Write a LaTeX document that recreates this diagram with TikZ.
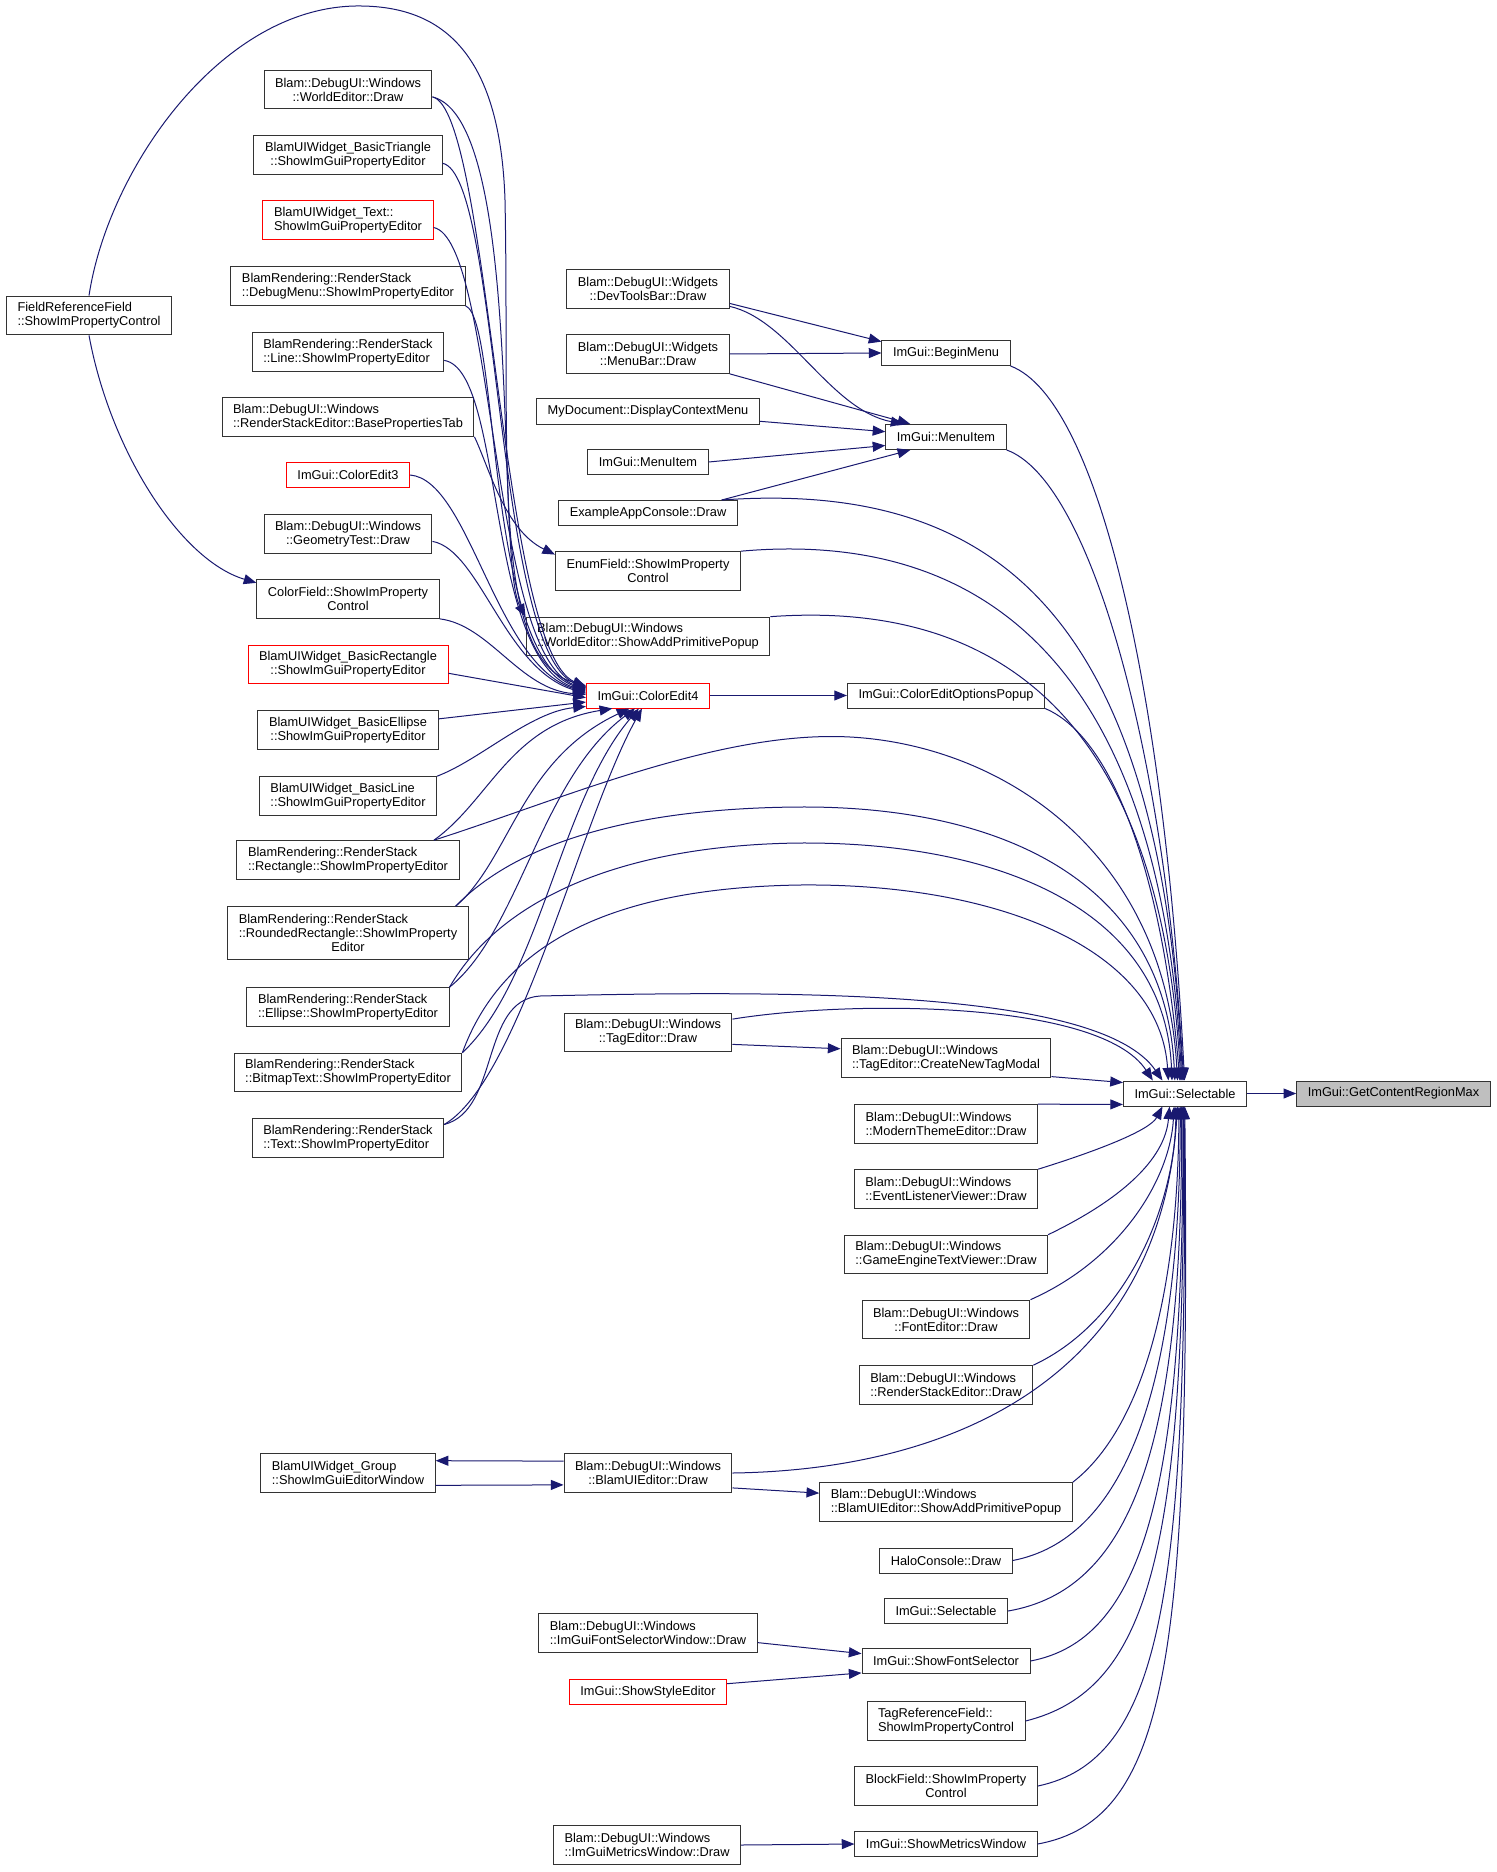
\documentclass[tikz,border=0pt]{standalone}
\usepackage{fontspec}
\setmainfont{Liberation Sans}
\usetikzlibrary{arrows.meta}
\definecolor{edgeblue}{HTML}{191970}
\definecolor{nodegray}{HTML}{BFBFBF}

\tikzset{
  fn/.style={draw=black!80, fill=white, line width=0.75pt, inner xsep=8.3pt, inner ysep=0pt,
    minimum height=18.75pt, align=center, font=\fontsize{9.6}{10.5}\selectfont},
  fn2/.style={fn, minimum height=29pt},
  fn3/.style={fn, minimum height=39.5pt},
  redbox/.style={draw=red},
  callarrow/.style={draw=edgeblue, line width=0.75pt, -{Triangle[length=9.5pt,width=7.5pt]}}
}

\begin{document}
\begin{tikzpicture}[x=0.75pt,y=-0.75pt]
\path[use as bounding box, fill=white] (0,0) rectangle (1496,1872);

% left column
\node (wed)    [fn2] at (348,89.5) {Blam::DebugUI::Windows\\::WorldEditor::Draw};
\node (bwtri)  [fn2] at (348,155) {BlamUIWidget\_BasicTriangle\\::ShowImGuiPropertyEditor};
\node (bwtext) [fn2,redbox,align=left] at (348,220) {BlamUIWidget\_Text::\\ShowImGuiPropertyEditor};
\node (rsdm)   [fn2,align=left] at (348,286) {BlamRendering::RenderStack\\::DebugMenu::ShowImPropertyEditor};
\node (rsl)    [fn2,align=left] at (348,352) {BlamRendering::RenderStack\\::Line::ShowImPropertyEditor};
\node (rsbp)   [fn2,align=left] at (348,417) {Blam::DebugUI::Windows\\::RenderStackEditor::BasePropertiesTab};
\node (ce3)    [fn,redbox] at (348,475) {ImGui::ColorEdit3};
\node (geo)    [fn2] at (348,534) {Blam::DebugUI::Windows\\::GeometryTest::Draw};
\node (cf)     [fn2] at (348,599) {ColorField::ShowImProperty\\Control};
\node (bwrect) [fn2,redbox] at (348,664.5) {BlamUIWidget\_BasicRectangle\\::ShowImGuiPropertyEditor};
\node (bwell)  [fn2] at (348,730) {BlamUIWidget\_BasicEllipse\\::ShowImGuiPropertyEditor};
\node (bwline) [fn2,align=left] at (348,796) {BlamUIWidget\_BasicLine\\::ShowImGuiPropertyEditor};
\node (rsrect) [fn2,align=left] at (348,860) {BlamRendering::RenderStack\\::Rectangle::ShowImPropertyEditor};
\node (rsrr)   [fn3,align=left] at (348,933) {BlamRendering::RenderStack\\::RoundedRectangle::ShowImProperty\\\hspace*{\fill}Editor\hspace*{\fill}};
\node (rsell)  [fn2,align=left] at (348,1007) {BlamRendering::RenderStack\\::Ellipse::ShowImPropertyEditor};
\node (rsbmp)  [fn2,align=left] at (348,1072.5) {BlamRendering::RenderStack\\::BitmapText::ShowImPropertyEditor};
\node (rstxt)  [fn2,align=left] at (348,1138) {BlamRendering::RenderStack\\::Text::ShowImPropertyEditor};
\node (frf)    [fn2,align=left] at (89,315.5) {FieldReferenceField\\::ShowImPropertyControl};
\node (grp)    [fn2,align=left] at (348,1473) {BlamUIWidget\_Group\\::ShowImGuiEditorWindow};

% middle column
\node (dtb)  [fn2] at (648,289) {Blam::DebugUI::Widgets\\::DevToolsBar::Draw};
\node (mb)   [fn2] at (648,354) {Blam::DebugUI::Widgets\\::MenuBar::Draw};
\node (mdc)  [fn] at (648,411.5) {MyDocument::DisplayContextMenu};
\node (mil)  [fn] at (648,462) {ImGui::MenuItem};
\node (eac)  [fn] at (648,513) {ExampleAppConsole::Draw};
\node (ef)   [fn2] at (648,571) {EnumField::ShowImProperty\\Control};
\node (wap)  [fn2,align=left] at (648,636.5) {Blam::DebugUI::Windows\\::WorldEditor::ShowAddPrimitivePopup};
\node (ce4)  [fn,redbox] at (648,695.5) {ImGui::ColorEdit4};
\node (ted)  [fn2] at (648,1032.5) {Blam::DebugUI::Windows\\::TagEditor::Draw};
\node (bued) [fn2] at (648,1473) {Blam::DebugUI::Windows\\::BlamUIEditor::Draw};
\node (fsw)  [fn2,align=left] at (648,1633) {Blam::DebugUI::Windows\\::ImGuiFontSelectorWindow::Draw};
\node (sse)  [fn,redbox] at (648,1692) {ImGui::ShowStyleEditor};
\node (imw)  [fn2,align=left] at (647,1845) {Blam::DebugUI::Windows\\::ImGuiMetricsWindow::Draw};

% right column
\node (bm)   [fn] at (946,353) {ImGui::BeginMenu};
\node (mi)   [fn] at (946,437) {ImGui::MenuItem};
\node (ceo)  [fn] at (946,695.5) {ImGui::ColorEditOptionsPopup};
\node (ctm)  [fn2,align=left] at (946,1058) {Blam::DebugUI::Windows\\::TagEditor::CreateNewTagModal};
\node (mte)  [fn2,align=left] at (946,1124) {Blam::DebugUI::Windows\\::ModernThemeEditor::Draw};
\node (elv)  [fn2,align=left] at (946,1189) {Blam::DebugUI::Windows\\::EventListenerViewer::Draw};
\node (getv) [fn2,align=left] at (946,1254.5) {Blam::DebugUI::Windows\\::GameEngineTextViewer::Draw};
\node (fed)  [fn2] at (946,1319.5) {Blam::DebugUI::Windows\\::FontEditor::Draw};
\node (rsd)  [fn2,align=left] at (946,1385) {Blam::DebugUI::Windows\\::RenderStackEditor::Draw};
\node (buap) [fn2,align=left] at (946,1502) {Blam::DebugUI::Windows\\::BlamUIEditor::ShowAddPrimitivePopup};
\node (hcd)  [fn] at (946,1560.5) {HaloConsole::Draw};
\node (sel2) [fn] at (946,1611) {ImGui::Selectable};
\node (sfs)  [fn] at (946,1661) {ImGui::ShowFontSelector};
\node (trf)  [fn2,align=left] at (946,1721) {TagReferenceField::\\ShowImPropertyControl};
\node (bf)   [fn2] at (946,1786) {BlockField::ShowImProperty\\Control};
\node (smw)  [fn] at (946,1844) {ImGui::ShowMetricsWindow};

\node (sel)  [fn] at (1185,1093.5) {ImGui::Selectable};
\node (gcr)  [fn,fill=nodegray] at (1393.5,1093.5) {ImGui::GetContentRegionMax};

% callers of ColorEdit4
\draw[callarrow] (frf.north) .. controls (108,170) and (220,8) .. (356,6)
  .. controls (440,5) and (500,50) .. (505,200) .. controls (510,450) and (490,660) .. (ce4.171);
\draw[callarrow] (frf.south) .. controls (110,450) and (180,560) .. (cf.170);
\draw[callarrow] (wed.-5) .. controls (490,110) and (500,650) .. (ce4.172);
\draw[callarrow] (wed.-5) .. controls (525,120) and (495,560) .. (wap.north west);
\draw[callarrow] (bwtri.-5) .. controls (500,175) and (495,650) .. (ce4.173);
\draw[callarrow] (bwtext.-5) .. controls (495,240) and (490,655) .. (ce4.174);
\draw[callarrow] (rsdm.south east) .. controls (500,320) and (485,655) .. (ce4.175);
\draw[callarrow] (rsl.-5) .. controls (505,370) and (485,660) .. (ce4.176);
\draw[callarrow] (rsbp.south east) .. controls (490,470) and (505,530) .. (ef.170);
\draw[callarrow] (ce3.east) .. controls (470,480) and (495,665) .. (ce4.177);
\draw[callarrow] (geo.-5) .. controls (480,550) and (505,670) .. (ce4.178);
\draw[callarrow] (cf.south east) .. controls (490,625) and (520,690) .. (ce4.179);
\draw[callarrow] (bwrect.-5) -- (ce4.182);
\draw[callarrow] (bwell.7) -- (ce4.186);
\draw[callarrow] (bwline.north east) .. controls (480,760) and (530,712) .. (ce4.190);
\draw[callarrow] (rsrect.13) .. controls (490,800) and (510,725) .. (ce4.200);
\draw[callarrow] (rsrr.14) .. controls (510,860) and (520,760) .. (ce4.215);
\draw[callarrow] (rsell.north east) .. controls (520,930) and (540,780) .. (ce4.225);
\draw[callarrow] (rsbmp.north east) .. controls (540,980) and (560,800) .. (ce4.235);
\draw[callarrow] (rstxt.8) .. controls (520,1080) and (580,820) .. (ce4.245);

% menus
\draw[callarrow] (dtb.-10) -- (bm.170);
\draw[callarrow] (dtb.-12) .. controls (790,320) and (830,410) .. (mi.163);
\draw[callarrow] (mb.east) -- (bm.west);
\draw[callarrow] (mb.south east) -- (mi.160);
\draw[callarrow] (mdc.-5) -- (mi.175);
\draw[callarrow] (mil.east) -- (mi.188);
\draw[callarrow] (eac.10) -- (mi.200);
\draw[callarrow] (ce4.east) -- (ceo.west);
\draw[callarrow] (ted.-8) -- (ctm.175);
\draw[callarrow] (bued.-10) -- (buap.176);
\draw[callarrow] (bued.172) -- (grp.8);
\draw[callarrow] (grp.-8) -- (bued.-172);
\draw[callarrow] (fsw.-5) -- (sfs.175);
\draw[callarrow] (sse.6) -- (sfs.-172);
\draw[callarrow] (imw.east) -- (smw.west);
\draw[callarrow] (sel.east) -- (gcr.west);

% callers of Selectable, from above
\draw[callarrow] (bm.south east) .. controls (1100,400) and (1165,700) .. (sel.92);
\draw[callarrow] (mi.south east) .. controls (1090,480) and (1165,750) .. (sel.96);
\draw[callarrow] (eac.10) .. controls (1000,480) and (1160,620) .. (sel.100);
\draw[callarrow] (ef.north east) .. controls (980,530) and (1160,660) .. (sel.104);
\draw[callarrow] (wap.north east) .. controls (1000,600) and (1160,720) .. (sel.108);
\draw[callarrow] (ceo.south east) .. controls (1120,740) and (1165,900) .. (sel.112);
\draw[callarrow] (rsrect.13) .. controls (560,800) and (720,730) .. (850,737)
  .. controls (1000,745) and (1165,850) .. (sel.120);
\draw[callarrow] (rsrr.14) .. controls (520,840) and (640,808) .. (800,807)
  .. controls (1000,806) and (1165,880) .. (sel.128);
\draw[callarrow] (rsell.north east) .. controls (500,900) and (620,845) .. (800,843)
  .. controls (1000,842) and (1165,910) .. (sel.135);
\draw[callarrow] (rsbmp.north east) .. controls (500,950) and (600,888) .. (800,885)
  .. controls (1000,883) and (1160,950) .. (sel.142);
\draw[callarrow] (rstxt.8) .. controls (500,1110) and (480,1000) .. (540,996)
  .. controls (800,990) and (1100,990) .. (sel.150);
\draw[callarrow] (ted.9) .. controls (850,1000) and (1100,1000) .. (sel.158);

% from the left and from below
\draw[callarrow] (ctm.-10) -- (sel.170);
\draw[callarrow] (mte.north east) -- (sel.-170);
\draw[callarrow] (elv.north east) .. controls (1100,1150) and (1150,1130) .. (sel.-150);
\draw[callarrow] (getv.north east) .. controls (1120,1200) and (1165,1160) .. (sel.-140);
\draw[callarrow] (fed.north east) .. controls (1120,1260) and (1170,1180) .. (sel.-130);
\draw[callarrow] (rsd.north east) .. controls (1130,1320) and (1175,1200) .. (sel.-125);
\draw[callarrow] (bued.east) .. controls (950,1470) and (1160,1380) .. (sel.-120);
\draw[callarrow] (buap.north east) .. controls (1140,1430) and (1178,1300) .. (sel.-115);
\draw[callarrow] (hcd.east) .. controls (1120,1540) and (1180,1400) .. (sel.-110);
\draw[callarrow] (sel2.east) .. controls (1130,1590) and (1183,1450) .. (sel.-105);
\draw[callarrow] (sfs.east) .. controls (1140,1640) and (1185,1500) .. (sel.-100);
\draw[callarrow] (trf.east) .. controls (1150,1690) and (1186,1550) .. (sel.-97);
\draw[callarrow] (bf.east) .. controls (1160,1760) and (1188,1600) .. (sel.-94);
\draw[callarrow] (smw.east) .. controls (1170,1820) and (1190,1650) .. (sel.-91);
\end{tikzpicture}
\end{document}
